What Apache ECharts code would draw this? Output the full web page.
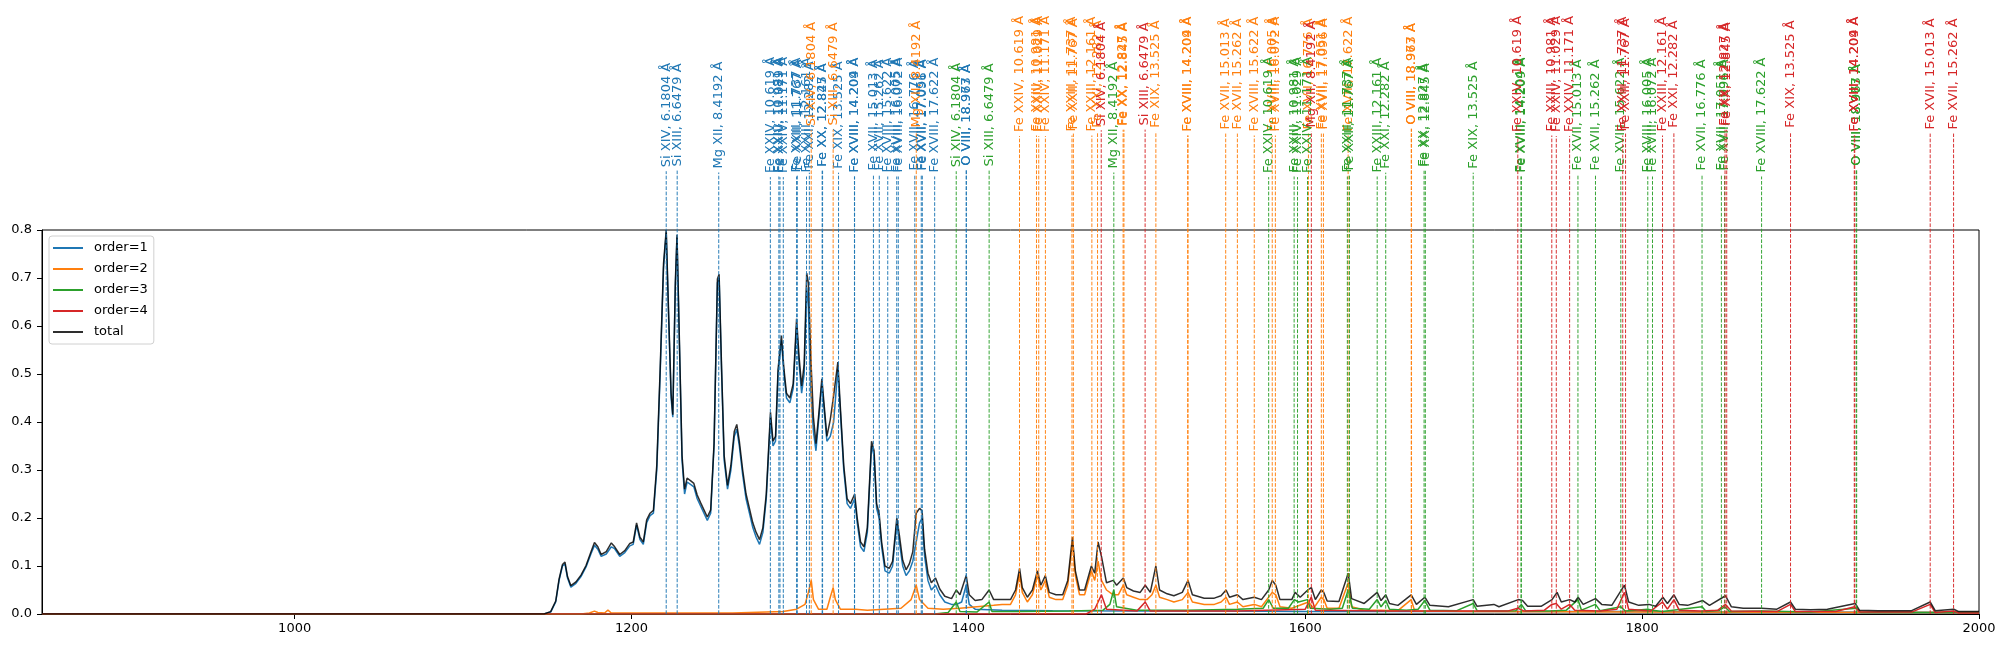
<!DOCTYPE html>
<html>
<head>
<meta charset="utf-8">
<script src="https://cdn.jsdelivr.net/npm/echarts@6/dist/echarts.min.js"></script>
<style>
  html, body { margin: 0; padding: 0; background: #fff; }
  #chart { width: 2006px; height: 648px; }
</style>
</head>
<body>
<div id="chart"></div>
<script>
// 谱线列表 (离子, 波长 Å)
const ionNames = [
    'Si XIV', 'Si XIII', 'Mg XII', 'Fe XXIV', 'Fe XXIII', 'Fe XXIV', 'Fe XXIV',
    'Fe XXIII', 'Fe XXII', 'Fe XXIII', 'Fe XXI', 'Fe XX', 'Fe XX', 'Fe XIX',
    'Fe XVIII', 'Fe XVIII', 'Fe XVII', 'Fe XVII', 'Fe XVIII', 'Fe XVIII', 'Fe XVIII',
    'Fe XVII', 'Fe XVII', 'Fe XVII', 'Fe XVIII', 'O VIII', 'O VIII'
];
const wavelengths = [
    6.1804, 6.6479, 8.4192, 10.619, 10.981, 11.029, 11.171,
    11.737, 11.767, 12.161, 12.282, 12.827, 12.845, 13.525,
    14.204, 14.209, 15.013, 15.262, 15.622, 16.005, 16.072,
    16.776, 17.051, 17.096, 17.622, 18.967, 18.973
];
const orders = [1, 2, 3, 4];
// 通道 = 起点 + 色散 * 级次 * 波长
const dispersionStart = 1134.5;
const dispersionStep = 13.93;

const xTicks = [1000, 1200, 1400, 1600, 1800, 2000];

// 各级次谱 [通道, 强度]
const order1 = [[850,0],[1148,0],[1152,0.004],[1155,0.025],[1157,0.07],[1159,0.1],[1160.5,0.104],[1162,0.075],[1164,0.056],[1167,0.064],[1170,0.078],[1173,0.098],[1176,0.126],[1178,0.143],[1180,0.135],[1182,0.12],[1185,0.125],[1188,0.14],[1190,0.136],[1193,0.12],[1196,0.128],[1199,0.142],[1201,0.145],[1203,0.185],[1205,0.155],[1207,0.145],[1209,0.19],[1211,0.205],[1213,0.21],[1215,0.3],[1217,0.5],[1219,0.72],[1220.6,0.795],[1222,0.62],[1223.5,0.45],[1224.5,0.41],[1226,0.68],[1227,0.785],[1228.5,0.55],[1230,0.32],[1231.5,0.25],[1233,0.275],[1235,0.27],[1237,0.265],[1239,0.24],[1241,0.225],[1243,0.21],[1245,0.195],[1247,0.21],[1249,0.35],[1251,0.69],[1252,0.7],[1253.5,0.5],[1255,0.32],[1257,0.26],[1259,0.3],[1261,0.37],[1262.5,0.385],[1264,0.35],[1266,0.29],[1268,0.24],[1270,0.21],[1272,0.18],[1274,0.16],[1276,0.145],[1278,0.17],[1280,0.24],[1282.5,0.41],[1284,0.35],[1285.5,0.36],[1287,0.5],[1289,0.57],[1290.5,0.5],[1292,0.45],[1294,0.44],[1296,0.47],[1298,0.6],[1299.5,0.52],[1301,0.46],[1302.5,0.5],[1304,0.68],[1305,0.64],[1306.5,0.46],[1308,0.38],[1309.5,0.34],[1311,0.4],[1313,0.48],[1314.5,0.42],[1316,0.36],[1318,0.37],[1320,0.4],[1322.5,0.51],[1324,0.42],[1326,0.3],[1328,0.23],[1330,0.22],[1332.5,0.24],[1334,0.19],[1336,0.14],[1338,0.13],[1340,0.17],[1342.5,0.35],[1344,0.33],[1345.5,0.22],[1347,0.2],[1348.5,0.14],[1350.5,0.09],[1353,0.085],[1355,0.1],[1357.5,0.19],[1359,0.15],[1361,0.1],[1363,0.08],[1365,0.09],[1367,0.11],[1369,0.15],[1371,0.19],[1372.5,0.2],[1374,0.12],[1376,0.07],[1378,0.05],[1380.5,0.06],[1383,0.04],[1386,0.025],[1390,0.02],[1393,0.02],[1396,0.025],[1398.7,0.06],[1400.5,0.02],[1404,0.01],[1420,0.008],[1450,0.007],[1500,0.006],[1550,0.006],[1600,0.005],[1650,0.005],[1700,0.005],[1750,0.005],[1800,0.005],[1850,0.004],[1900,0.004],[2000,0.003]];

const order2 = [[850,0],[1170,0],[1175,0.002],[1178,0.006],[1180,0.003],[1184,0.002],[1186,0.008],[1188,0.002],[1260,0.002],[1280,0.004],[1290,0.005],[1298,0.01],[1303,0.02],[1305,0.045],[1306.7,0.07],[1308,0.03],[1311,0.01],[1316,0.01],[1318,0.035],[1319.7,0.055],[1321,0.03],[1324,0.01],[1333,0.01],[1340,0.008],[1350,0.01],[1360,0.012],[1366,0.03],[1369,0.06],[1371,0.03],[1376,0.012],[1385,0.01],[1395,0.012],[1405,0.015],[1415,0.018],[1420,0.02],[1425,0.02],[1428,0.04],[1430.4,0.085],[1432,0.045],[1435,0.025],[1438,0.04],[1441,0.08],[1443,0.05],[1445.7,0.07],[1448,0.035],[1452,0.03],[1456,0.03],[1459,0.06],[1461.8,0.15],[1463.5,0.08],[1466,0.04],[1469,0.04],[1473,0.09],[1475,0.07],[1477,0.11],[1479,0.07],[1482,0.05],[1486,0.04],[1489,0.04],[1492,0.06],[1494,0.04],[1498,0.035],[1502,0.03],[1506,0.03],[1509,0.04],[1511.3,0.06],[1513.5,0.035],[1518,0.03],[1522,0.025],[1527,0.03],[1530.4,0.045],[1533,0.025],[1540,0.02],[1546,0.02],[1550,0.025],[1553,0.035],[1555,0.02],[1559.7,0.025],[1563,0.015],[1569.7,0.02],[1574,0.015],[1580.4,0.045],[1582.5,0.04],[1585,0.015],[1592,0.012],[1601.9,0.025],[1605,0.012],[1609.5,0.035],[1611,0.03],[1613,0.012],[1620,0.012],[1625.5,0.065],[1627.5,0.015],[1635,0.008],[1645,0.008],[1655,0.007],[1662.9,0.03],[1665,0.006],[1700,0.005],[1800,0.004],[2000,0.003]];

const order3 = [[850,0],[1380,0],[1388,0.003],[1392.8,0.025],[1395,0.005],[1405,0.004],[1412.3,0.025],[1414,0.005],[1430,0.005],[1460,0.006],[1480,0.008],[1484,0.02],[1486.3,0.05],[1488,0.015],[1500,0.008],[1530,0.008],[1560,0.01],[1575,0.012],[1578.3,0.03],[1581,0.012],[1590,0.012],[1593.5,0.03],[1596,0.025],[1601.3,0.03],[1603,0.012],[1615,0.01],[1622,0.012],[1625.5,0.05],[1628,0.012],[1638,0.01],[1642.7,0.03],[1645,0.015],[1647.8,0.028],[1650,0.01],[1660,0.008],[1667,0.01],[1671,0.028],[1674,0.008],[1690,0.007],[1699.7,0.022],[1702,0.007],[1715,0.006],[1725,0.007],[1728.3,0.02],[1731,0.006],[1745,0.006],[1755,0.008],[1761.9,0.03],[1764,0.008],[1772.3,0.02],[1775,0.007],[1787.3,0.015],[1790,0.006],[1803.4,0.01],[1806,0.008],[1812,0.005],[1835.6,0.015],[1838,0.005],[1846,0.008],[1849,0.015],[1852,0.005],[1871,0.006],[1900,0.004],[1927.2,0.012],[1930,0.003],[2000,0.003]];

const order4 = [[850,0],[1470,0],[1475,0.01],[1479,0.04],[1482,0.01],[1500,0.006],[1505,0.025],[1508,0.006],[1560,0.006],[1600,0.01],[1603.6,0.035],[1606,0.008],[1650,0.006],[1700,0.006],[1720,0.006],[1726.2,0.012],[1730,0.006],[1742,0.008],[1746.4,0.02],[1749,0.022],[1752,0.01],[1757,0.02],[1760,0.008],[1775,0.006],[1785,0.01],[1789.5,0.045],[1792,0.01],[1805,0.006],[1812.1,0.025],[1815,0.01],[1818.9,0.03],[1822,0.008],[1835,0.006],[1845,0.008],[1849.5,0.02],[1853,0.006],[1880,0.005],[1888.1,0.02],[1891,0.005],[1915,0.005],[1926.2,0.015],[1929,0.004],[1960,0.004],[1971,0.02],[1974,0.003],[1985,0.006],[1988,0.002],[2000,0.002]];

const total = [[850,0],[1148,0],[1152,0.005],[1155,0.027],[1157,0.073],[1159,0.103],[1160.5,0.108],[1162,0.078],[1164,0.059],[1167,0.067],[1170,0.081],[1173,0.101],[1176,0.13],[1178,0.149],[1180,0.14],[1182,0.124],[1185,0.13],[1188,0.148],[1190,0.14],[1193,0.124],[1196,0.132],[1199,0.147],[1201,0.15],[1203,0.19],[1205,0.16],[1207,0.15],[1209,0.196],[1211,0.21],[1213,0.216],[1215,0.31],[1217,0.51],[1219,0.73],[1220.6,0.8],[1222,0.63],[1223.5,0.46],[1224.5,0.415],[1226,0.69],[1227,0.79],[1228.5,0.56],[1230,0.33],[1231.5,0.26],[1233,0.283],[1235,0.278],[1237,0.272],[1239,0.248],[1241,0.232],[1243,0.217],[1245,0.202],[1247,0.217],[1249,0.356],[1251,0.698],[1252,0.708],[1253.5,0.51],[1255,0.33],[1257,0.268],[1259,0.31],[1261,0.38],[1262.5,0.395],[1264,0.36],[1266,0.3],[1268,0.25],[1270,0.22],[1272,0.19],[1274,0.17],[1276,0.155],[1278,0.18],[1280,0.25],[1282.5,0.42],[1284,0.36],[1285.5,0.37],[1287,0.51],[1289,0.58],[1290.5,0.51],[1292,0.46],[1294,0.45],[1296,0.48],[1298,0.615],[1299.5,0.535],[1301,0.475],[1302.5,0.52],[1304,0.71],[1305,0.69],[1306.5,0.53],[1308,0.41],[1309.5,0.355],[1311,0.41],[1313,0.49],[1314.5,0.43],[1316,0.37],[1318,0.405],[1320,0.455],[1322.5,0.525],[1324,0.43],[1326,0.31],[1328,0.24],[1330,0.23],[1332.5,0.25],[1334,0.2],[1336,0.15],[1338,0.14],[1340,0.18],[1342.5,0.36],[1344,0.34],[1345.5,0.23],[1347,0.21],[1348.5,0.15],[1350.5,0.1],[1353,0.095],[1355,0.11],[1357.5,0.2],[1359,0.165],[1361,0.112],[1363,0.092],[1365,0.105],[1367,0.13],[1369,0.21],[1371,0.22],[1372.5,0.215],[1374,0.135],[1376,0.085],[1378,0.065],[1380.5,0.075],[1383,0.052],[1386,0.037],[1390,0.032],[1392.8,0.05],[1395,0.04],[1398.7,0.08],[1400.5,0.04],[1404,0.028],[1408,0.03],[1412.3,0.05],[1415,0.03],[1420,0.03],[1425,0.03],[1428,0.05],[1430.4,0.095],[1432,0.055],[1435,0.035],[1438,0.05],[1441,0.09],[1443,0.06],[1445.7,0.08],[1448,0.045],[1452,0.04],[1456,0.04],[1459,0.07],[1461.8,0.16],[1463.5,0.09],[1466,0.05],[1469,0.05],[1473,0.1],[1475,0.085],[1477,0.15],[1479,0.12],[1482,0.065],[1486,0.07],[1488,0.06],[1492,0.075],[1494,0.055],[1498,0.048],[1502,0.045],[1505,0.06],[1508,0.045],[1511.3,0.1],[1513.5,0.05],[1518,0.042],[1522,0.038],[1527,0.045],[1530.4,0.07],[1533,0.04],[1540,0.033],[1546,0.033],[1550,0.038],[1553,0.05],[1555,0.035],[1559.7,0.04],[1563,0.03],[1569.7,0.035],[1574,0.03],[1578.3,0.05],[1580.4,0.07],[1582.5,0.06],[1585,0.03],[1592,0.03],[1594,0.045],[1597,0.035],[1601.5,0.05],[1603.6,0.055],[1606,0.03],[1609.5,0.05],[1611,0.045],[1613,0.027],[1620,0.026],[1625.5,0.085],[1627.5,0.032],[1635,0.022],[1642.7,0.045],[1645,0.028],[1647.8,0.04],[1650,0.022],[1655,0.018],[1662.9,0.04],[1666,0.02],[1671,0.035],[1674,0.018],[1685,0.015],[1699.7,0.03],[1702,0.016],[1712,0.02],[1715,0.015],[1726.5,0.03],[1729,0.028],[1732,0.016],[1740,0.016],[1746.5,0.03],[1749.5,0.045],[1752,0.025],[1757,0.03],[1760,0.025],[1762,0.035],[1765,0.02],[1772.3,0.032],[1776,0.02],[1782,0.018],[1789.5,0.06],[1792,0.025],[1798,0.018],[1804,0.02],[1808,0.016],[1812.3,0.035],[1815,0.022],[1818.9,0.04],[1822,0.02],[1827,0.018],[1836,0.028],[1840,0.018],[1849.5,0.038],[1853,0.015],[1860,0.012],[1871,0.012],[1880,0.01],[1888.1,0.025],[1891,0.01],[1900,0.009],[1910,0.01],[1926.5,0.022],[1929,0.008],[1940,0.007],[1960,0.007],[1971,0.025],[1974,0.007],[1985,0.01],[1988,0.005],[2000,0.005]];

const spectra = [order1, order2, order3, order4];
const colors = ['#1f77b4', '#ff7f0e', '#2ca02c', '#d62728'];
const totalColor = 'rgba(0,0,0,0.82)';
// 标注文字中心的像素高度 (按级次)
const labelCenterY = { 1: 115, 2: 74, 3: 115, 4: 74 };
const FONT = '13px "DejaVu Sans"';
const X_MIN = 850, X_MAX = 2000, Y_MAX = 0.8;

const chart = echarts.init(document.getElementById('chart'));

// 量文字宽度
const measureCtx = document.createElement('canvas').getContext('2d');
measureCtx.font = FONT;
function textWidth(s) {
    return measureCtx.measureText(s).width;
}

// 构建每个级次的标记数据
function buildMarkers(order) {
    const pts = [];
    const texts = [];
    wavelengths.forEach((wl, i) => {
        const x = dispersionStart + dispersionStep * order * wl;
        if (x >= X_MIN && x <= X_MAX) {
            pts.push([x, 0]);
            texts.push(ionNames[i] + ', ' + wl + ' Å');
        }
    });
    return { pts, texts };
}

function markerSeries(order, color) {
    const m = buildMarkers(order);
    return {
        type: 'custom',
        z: 4,
        silent: true,
        clip: false,
        data: m.pts,
        encode: { x: 0, y: 1 },
        renderItem: function (params, api) {
            const base = api.coord([api.value(0), 0]);
            const text = m.texts[params.dataIndex];
            const cy = labelCenterY[order];
            const bottom = cy + textWidth(text) / 2 + 4;
            return {
                type: 'group',
                children: [
                    {
                        type: 'line',
                        shape: { x1: base[0], y1: base[1], x2: base[0], y2: bottom },
                        style: { stroke: color, lineWidth: 1, lineDash: [3.7, 1.6], opacity: 0.95 }
                    },
                    {
                        type: 'text',
                        x: base[0],
                        y: cy,
                        rotation: Math.PI / 2,
                        style: {
                            text: text,
                            fill: color,
                            font: FONT,
                            align: 'center',
                            verticalAlign: 'middle'
                        }
                    }
                ]
            };
        }
    };
}

const lineSeries = spectra.map((d, i) => ({
    name: 'order=' + orders[i],
    type: 'line',
    data: d,
    showSymbol: false,
    symbol: 'none',
    lineStyle: { width: 1.5, color: colors[i] },
    itemStyle: { color: colors[i] },
    z: 2
}));
lineSeries.push({
    name: 'total',
    type: 'line',
    data: total,
    showSymbol: false,
    symbol: 'none',
    lineStyle: { width: 1.5, color: totalColor },
    itemStyle: { color: totalColor },
    z: 3
});

const option = {
    animation: false,
    backgroundColor: '#fff',
    textStyle: { fontFamily: 'DejaVu Sans' },
    grid: {
        left: 42, right: 27, top: 230, bottom: 34,
        show: true, borderColor: '#000', borderWidth: 1
    },
    legend: {
        orient: 'vertical',
        left: 49, top: 236,
        padding: [5, 6, 5, 4],
        itemGap: 7,
        itemWidth: 30,
        itemHeight: 2,
        icon: 'rect',
        backgroundColor: 'rgba(255,255,255,0.85)',
        borderColor: '#d0d0d0',
        borderWidth: 1,
        borderRadius: 3,
        textStyle: { fontSize: 13, color: '#000', lineHeight: 14, padding: [0, 0, 0, 6], fontFamily: 'DejaVu Sans' },
        data: ['order=1', 'order=2', 'order=3', 'order=4', 'total']
    },
    xAxis: {
        type: 'value',
        min: X_MIN, max: X_MAX,
        axisLine: { lineStyle: { color: '#000' } },
        axisTick: { length: 5, lineStyle: { color: '#000' }, customValues: xTicks },
        axisLabel: { fontSize: 13, color: '#000', margin: 8, customValues: xTicks, formatter: v => String(v) },
        splitLine: { show: false }
    },
    yAxis: {
        type: 'value',
        min: 0, max: Y_MAX, interval: 0.1,
        axisLine: { show: true, lineStyle: { color: '#000' } },
        axisTick: { show: true, length: 5, lineStyle: { color: '#000' } },
        axisLabel: { fontSize: 13, color: '#000', margin: 10, formatter: v => v.toFixed(1) },
        splitLine: { show: false }
    },
    series: lineSeries.concat(orders.map((o, i) => markerSeries(o, colors[i])))
};

chart.setOption(option);
</script>
</body>
</html>
